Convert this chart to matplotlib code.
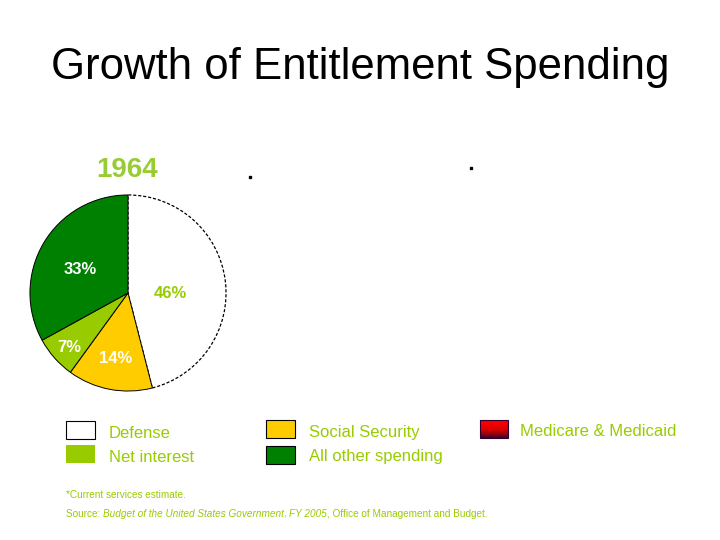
import numpy as np
import matplotlib.pyplot as plt
from matplotlib.patches import Rectangle
from matplotlib.colors import LinearSegmentedColormap

plt.rcParams['font.family'] = ['Liberation Sans', 'DejaVu Sans']

# 1964 shares of federal spending (clockwise from top)
categories = ['Defense', 'Social Security', 'Net interest', 'All other spending']
shares_1964 = [46, 14, 7, 33]
pie_colors = ['#FFFFFF', '#FFCC00', '#99CC00', '#008000']
label_colors = ['#99CC00', '#FFFFFF', '#FFFFFF', '#FFFFFF']
label_dist = [0.44, 0.65, 0.8, 0.57]
label_dy = [-0.06, -0.03, -0.03, -0.05]

legend_names = ['Defense', 'Net interest', 'Social Security',
                'All other spending', 'Medicare & Medicaid']
olive = '#99CC00'

fig = plt.figure(figsize=(7.2, 5.4), dpi=100)

# pie axes
ax = fig.add_axes([28 / 720, 1 - 393 / 540, 200 / 720, 200 / 540])
wedges, _ = ax.pie(shares_1964, colors=pie_colors, startangle=90,
                   counterclock=False, radius=1,
                   wedgeprops=dict(edgecolor='black', linewidth=0.7))
wedges[0].set_linestyle((0, (2.5, 1.5)))
wedges[0].set_linewidth(0.9)
for w, s, c, d, dy in zip(wedges, shares_1964, label_colors, label_dist,
                          label_dy):
    mid = np.deg2rad((w.theta1 + w.theta2) / 2)
    ax.text(d * np.cos(mid), d * np.sin(mid) + dy, f'{s}%', color=c,
            fontsize=12, fontweight='bold', ha='center', va='center')
ax.set_xlim(-1.02, 1.02)
ax.set_ylim(-1.02, 1.02)
ax.set_aspect('equal')
ax.axis('off')

# overlay axes in pixel coordinates for titles and legend
ov = fig.add_axes([0, 0, 1, 1], zorder=-1)
ov.axis('off')

ov.text(360, 68, 'Growth of Entitlement Spending', fontsize=31.5,
        ha='center', va='center', color='black')
ov.text(127, 170, '1964', fontsize=20, fontweight='bold', color='#99CC33',
        ha='center', va='center')
ov.plot([250, 471], [177, 168], 's', color='black', markersize=1.6)

# legend
box_pos = [(66, 421), (66, 445), (266, 420), (266, 446)]
box_face = ['#FFFFFF', '#99CC00', '#FFCC00', '#008000']
box_edge = ['black', 'none', 'black', 'black']
text_pos = [(109, 433), (109, 458), (309, 432), (309, 457), (520, 432)]
for (x, y), fc, ec in zip(box_pos, box_face, box_edge):
    ov.add_patch(Rectangle((x, y), 29, 18, facecolor=fc, edgecolor=ec,
                           linewidth=0.8))
grad = np.linspace(0, 1, 50)[:, None]
cmap = LinearSegmentedColormap.from_list(
    'med', [(0, '#FF0000'), (0.5, '#E00000'), (0.8, '#900010'), (1, '#300030')])
ov.imshow(grad, extent=(480, 508, 438, 420), cmap=cmap, aspect='auto')
ov.add_patch(Rectangle((480, 420), 28, 18, facecolor='none',
                       edgecolor='#300030', linewidth=0.8))
ov.set_xlim(0, 720)
ov.set_ylim(540, 0)
for (x, y), name in zip(text_pos, legend_names):
    ov.text(x, y, name, fontsize=12, color=olive, ha='left', va='center')

# footnotes
ov.text(66, 495, '*Current services estimate.', fontsize=7.2, color=olive,
        ha='left', va='center')
parts = [('Source: ', 'normal'),
         ('Budget of the United States Government', 'italic'),
         (', ', 'normal'), ('FY 2005', 'italic'),
         (', Office of Management and Budget.', 'normal')]
prev = ov.text(66, 514, parts[0][0], fontsize=7.2, color=olive,
               ha='left', va='center', style=parts[0][1])
for txt, st in parts[1:]:
    prev = ov.annotate(txt, xy=(1, 0), xycoords=prev, va='bottom',
                       ha='left', fontsize=7.2, color=olive, style=st)

fig.savefig('out.png', dpi=100)
